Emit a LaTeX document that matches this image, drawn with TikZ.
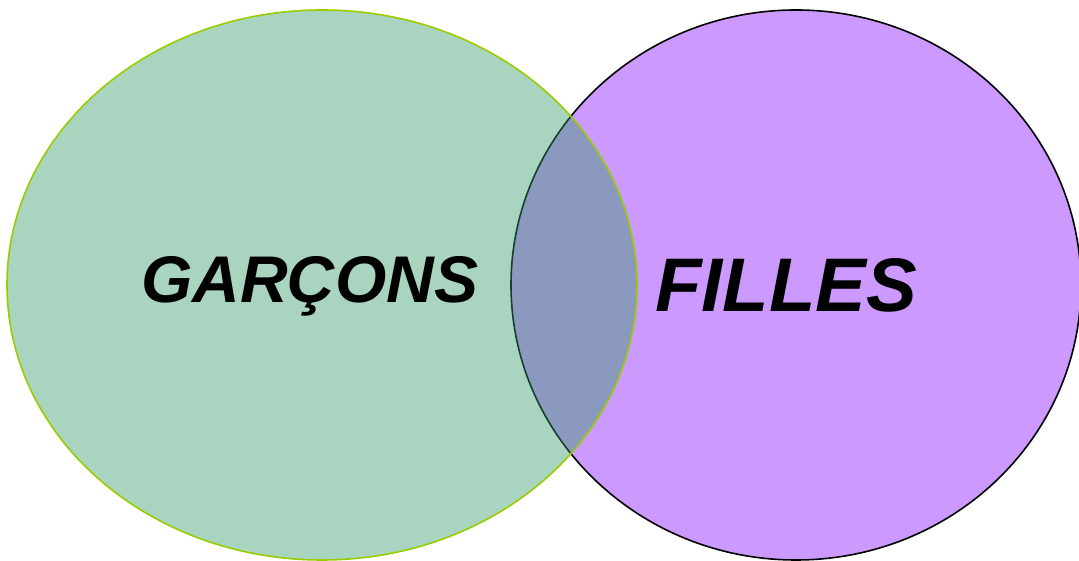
\documentclass[tikz,border=0pt]{standalone}
\usepackage{fontspec}
\setmainfont{Liberation Sans}
\definecolor{girlpurple}{RGB}{204, 153, 255}
\definecolor{boygreen}{RGB}{51, 153, 102}
\definecolor{boyline}{RGB}{153, 204, 0}
\usetikzlibrary{shapes.geometric}

\begin{document}
\begin{tikzpicture}[
  x=1pt, y=1pt,
  setbox/.style={ellipse, inner sep=0pt, minimum height=550pt, line width=1.6pt},
  setlabel/.style={anchor=base, inner sep=0pt, font=\bfseries\itshape}
]
  \useasboundingbox (0, 0) rectangle (1079, 561);
  \node[setbox, minimum width=570pt, draw=black, fill=girlpurple] (filles) at (796, 276) {};
  \node[setbox, minimum width=630pt, draw=boyline, fill=boygreen, fill opacity=0.42] (garcons) at (322, 276) {};
  \node[setlabel, font=\bfseries\itshape\fontsize{66}{70}\selectfont] (garconstext) at (310, 258) {GARÇONS};
  \node[setlabel, font=\bfseries\itshape\fontsize{76}{80}\selectfont] (fillestext) at (786, 249) {FILLES};
\end{tikzpicture}
\end{document}
